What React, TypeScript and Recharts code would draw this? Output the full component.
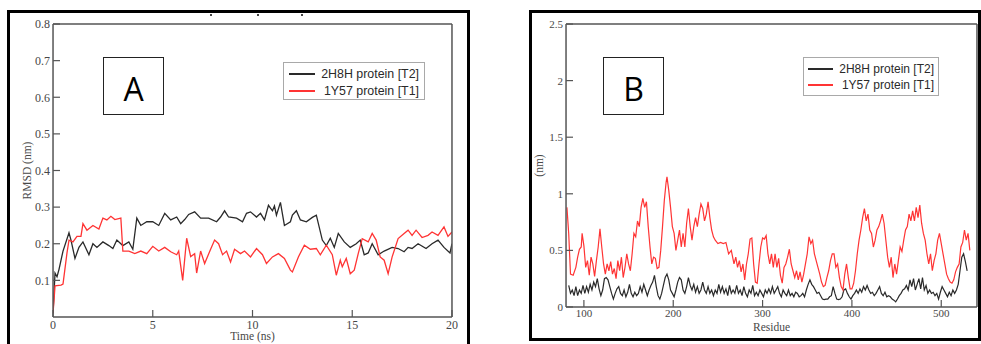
import React from 'react';
import { LineChart, Line, XAxis, YAxis, Legend } from 'recharts';

const SERIF = '"Liberation Serif", "Times New Roman", serif';
const SANS = '"Liberation Sans", Arial, sans-serif';

const seriesNames = ['2H8H protein [T2]', '1Y57 protein [T1]'];
const seriesColors = ['#2a2a2a', '#ff3434'];

// ---------- Panel A: RMSD vs time ----------
const timeTicksMajor = [0, 5, 10, 15, 20];
const timeTicksMinor = [2.5, 7.5, 12.5, 17.5];
const rmsdTicksLabel = [0.1, 0.2, 0.3, 0.4, 0.5, 0.6, 0.7, 0.8];
const rmsdTicksMajor = [0, 0.1, 0.2, 0.3, 0.4, 0.5, 0.6, 0.7, 0.8];
const rmsdTicksMinor = [0.05, 0.15, 0.25, 0.35, 0.45, 0.55, 0.65, 0.75];

const timeBlackA = [0, 0.1, 0.2, 0.3, 0.5, 0.8, 0.9, 1.1, 1.3, 1.5, 1.8, 2.0, 2.2, 2.5, 2.8, 3.0, 3.2, 3.5, 3.8, 4.0, 4.2, 4.4, 4.7, 5.0, 5.3, 5.6, 5.9, 6.2, 6.4, 6.6, 6.8, 7.1, 7.4, 7.8, 8.2, 8.4, 8.6, 8.8, 9.2, 9.5, 9.7, 9.9, 10.2, 10.4, 10.6, 10.8, 11.0, 11.1, 11.2, 11.4, 11.6, 11.9, 12.0, 12.2, 12.4, 12.7, 13.0, 13.2, 13.5, 13.7, 13.9, 14.1, 14.3, 14.6, 14.9, 15.2, 15.4, 15.6, 15.8, 16.0, 16.3, 16.6, 17.0, 17.3, 17.6, 17.8, 18.0, 18.3, 18.7, 19.0, 19.3, 19.6, 19.9, 20];
const rmsdBlackA = [0.01, 0.12, 0.11, 0.13, 0.18, 0.23, 0.21, 0.16, 0.19, 0.205, 0.17, 0.2, 0.19, 0.205, 0.195, 0.187, 0.21, 0.195, 0.205, 0.185, 0.27, 0.25, 0.26, 0.26, 0.25, 0.283, 0.265, 0.273, 0.255, 0.266, 0.28, 0.287, 0.27, 0.27, 0.26, 0.273, 0.29, 0.273, 0.27, 0.26, 0.283, 0.287, 0.273, 0.283, 0.265, 0.305, 0.29, 0.303, 0.278, 0.313, 0.25, 0.26, 0.278, 0.29, 0.265, 0.26, 0.272, 0.278, 0.21, 0.195, 0.215, 0.19, 0.228, 0.205, 0.19, 0.2, 0.21, 0.17, 0.175, 0.2, 0.17, 0.18, 0.19, 0.187, 0.178, 0.19, 0.187, 0.2, 0.187, 0.2, 0.21, 0.19, 0.175, 0.2];

const timeRedA = [0, 0.1, 0.4, 0.5, 0.7, 0.8, 1.0, 1.2, 1.4, 1.5, 1.7, 2.0, 2.3, 2.5, 2.7, 2.9, 3.1, 3.4, 3.5, 3.8, 4.1, 4.4, 4.7, 5.0, 5.3, 5.6, 5.9, 6.2, 6.3, 6.5, 6.7, 6.9, 7.1, 7.2, 7.4, 7.6, 7.9, 8.1, 8.3, 8.5, 8.7, 8.9, 9.1, 9.4, 9.6, 9.9, 10.2, 10.5, 10.7, 11.0, 11.3, 11.6, 11.9, 12.0, 12.3, 12.6, 12.9, 13.2, 13.4, 13.7, 14.0, 14.2, 14.4, 14.5, 14.7, 14.9, 15.1, 15.3, 15.5, 15.8, 16.0, 16.2, 16.4, 16.6, 16.8, 17.0, 17.3, 17.6, 17.8, 18.0, 18.2, 18.5, 18.8, 19.0, 19.3, 19.6, 19.8, 20];
const rmsdRedA = [0.01, 0.085, 0.087, 0.09, 0.175, 0.21, 0.205, 0.22, 0.22, 0.255, 0.237, 0.25, 0.24, 0.27, 0.265, 0.275, 0.266, 0.27, 0.18, 0.18, 0.173, 0.18, 0.173, 0.193, 0.18, 0.19, 0.178, 0.17, 0.18, 0.1, 0.215, 0.165, 0.173, 0.12, 0.18, 0.146, 0.185, 0.21, 0.2, 0.17, 0.18, 0.15, 0.185, 0.173, 0.18, 0.164, 0.187, 0.17, 0.146, 0.164, 0.173, 0.16, 0.128, 0.123, 0.164, 0.196, 0.185, 0.187, 0.17, 0.196, 0.17, 0.114, 0.155, 0.137, 0.16, 0.118, 0.128, 0.173, 0.214, 0.205, 0.228, 0.21, 0.164, 0.155, 0.118, 0.164, 0.214, 0.228, 0.237, 0.223, 0.237, 0.217, 0.223, 0.232, 0.223, 0.246, 0.22, 0.232];

// ---------- Panel B: fluctuation vs residue ----------
const residueTicksMajor = [100, 200, 300, 400, 500];
const residueTicksMinor = [150, 250, 350, 450];
const nmTicksMajor = [0, 0.5, 1, 1.5, 2, 2.5];
const nmTicksMinor = [0.25, 0.75, 1.25, 1.75, 2.25];

const residueRedB = [
  81, 83, 85, 88, 91, 93, 95, 97, 98, 100,
  102, 104, 106, 108, 110, 112, 114, 116, 118, 120,
  122, 124, 126, 128, 130, 132, 134, 136, 138, 140,
  142, 144, 146, 148, 150, 152, 154, 156, 158, 160,
  162, 164, 166, 168, 170, 172, 174, 176, 178, 180,
  182, 184, 186, 188, 190, 192, 193, 195, 197, 199,
  201, 203, 205, 207, 209, 211, 213, 215, 217, 219,
  221, 223, 225, 227, 229, 231, 233, 235, 237, 239,
  241, 243, 245, 247, 250, 253, 256, 259, 262, 265,
  268, 270, 272, 274, 276, 278, 280, 282, 284, 286,
  288, 290, 292, 294, 296, 298, 300, 302, 304, 306,
  308, 310, 312, 314, 316, 318, 320, 322, 324, 326,
  328, 330, 332, 334, 336, 338, 340, 342, 344, 346,
  348, 350, 352, 354, 356, 358, 360, 362, 364, 366,
  368, 370, 372, 374, 376, 378, 380, 382, 384, 386,
  388, 390, 392, 394, 396, 398, 400, 402, 404, 406,
  408, 410, 412, 414, 416, 418, 420, 422, 424, 426,
  428, 430, 432, 434, 436, 438, 440, 442, 444, 446,
  448, 450, 452, 454, 456, 458, 460, 462, 464, 466,
  468, 470, 472, 474, 476, 478, 480, 482, 484, 486,
  488, 490, 492, 494, 496, 498, 500, 502, 504, 506,
  508, 510, 512, 514, 516, 518, 520, 522, 524, 526,
  528, 530, 532,
];
const nmRedB = [
  0.88, 0.65, 0.29, 0.28, 0.35, 0.44, 0.51, 0.53, 0.65, 0.54,
  0.35, 0.41, 0.28, 0.44, 0.38, 0.27, 0.41, 0.53, 0.69, 0.53,
  0.38, 0.29, 0.38, 0.32, 0.4, 0.29, 0.34, 0.25, 0.41, 0.32,
  0.44, 0.26, 0.35, 0.47, 0.38, 0.32, 0.47, 0.65, 0.62, 0.76,
  0.71, 0.88, 0.96, 0.88, 0.93, 0.71, 0.53, 0.38, 0.44, 0.43,
  0.34, 0.35, 0.5, 0.71, 0.94, 1.1, 1.15, 1.03, 0.88, 0.71,
  0.65, 0.5, 0.59, 0.68, 0.53, 0.65, 0.53, 0.74, 0.87, 0.71,
  0.59, 0.71, 0.79, 0.71, 0.82, 0.91, 0.87, 0.76, 0.82, 0.93,
  0.79, 0.68, 0.62, 0.59, 0.56, 0.57, 0.56, 0.57, 0.47, 0.5,
  0.38, 0.44, 0.35, 0.41, 0.31, 0.38, 0.24, 0.38, 0.47, 0.6,
  0.61, 0.38, 0.22, 0.21, 0.38, 0.53, 0.61, 0.6, 0.63, 0.47,
  0.38, 0.47, 0.35, 0.47, 0.35, 0.43, 0.28, 0.21, 0.35, 0.38,
  0.44, 0.51, 0.38, 0.32, 0.26, 0.32, 0.24, 0.31, 0.22, 0.29,
  0.38, 0.47, 0.62, 0.56, 0.59, 0.47, 0.41, 0.35, 0.29, 0.22,
  0.18, 0.19, 0.26, 0.32, 0.41, 0.47, 0.47, 0.35, 0.38, 0.26,
  0.18, 0.15, 0.29, 0.38, 0.26, 0.16, 0.16, 0.21, 0.32, 0.47,
  0.59, 0.68, 0.79, 0.87, 0.76, 0.82, 0.68, 0.65, 0.53, 0.59,
  0.68, 0.71, 0.76, 0.82, 0.74, 0.59, 0.44, 0.35, 0.44, 0.26,
  0.38, 0.29, 0.41, 0.53, 0.49, 0.59, 0.68, 0.71, 0.82, 0.76,
  0.85, 0.76, 0.88, 0.79, 0.9, 0.74, 0.65, 0.59, 0.47, 0.38,
  0.47, 0.32, 0.41, 0.47, 0.59, 0.65, 0.56, 0.47, 0.38, 0.29,
  0.25, 0.22, 0.21, 0.24, 0.31, 0.35, 0.38, 0.53, 0.57, 0.68,
  0.59, 0.65, 0.5,
];

const residueBlackStart = 83;
const residueBlackStep = 2;
const nmBlackB = [
  0.19, 0.12, 0.15, 0.1, 0.18, 0.1, 0.15, 0.12, 0.19, 0.12,
  0.18, 0.13, 0.2, 0.15, 0.22, 0.18, 0.25, 0.16, 0.1, 0.15,
  0.25, 0.26, 0.24, 0.18, 0.12, 0.07, 0.12, 0.16, 0.18, 0.12,
  0.1, 0.15, 0.09, 0.13, 0.2, 0.12, 0.09, 0.13, 0.1, 0.12,
  0.18, 0.13, 0.2, 0.15, 0.1, 0.15, 0.19, 0.22, 0.28, 0.18,
  0.1, 0.07, 0.12, 0.19, 0.26, 0.29, 0.24, 0.15, 0.12, 0.09,
  0.15, 0.22, 0.26, 0.24, 0.15, 0.12, 0.18, 0.26, 0.19, 0.15,
  0.2, 0.13, 0.18, 0.12, 0.15, 0.22, 0.15, 0.12, 0.18, 0.12,
  0.15, 0.1, 0.15, 0.12, 0.2, 0.13, 0.18, 0.12, 0.16, 0.1,
  0.19, 0.12, 0.15, 0.12, 0.19, 0.12, 0.15, 0.1, 0.18, 0.12,
  0.09, 0.15, 0.12, 0.19, 0.1, 0.13, 0.1, 0.15, 0.12, 0.09,
  0.15, 0.12, 0.16, 0.12, 0.18, 0.12, 0.15, 0.18, 0.12, 0.09,
  0.15, 0.12, 0.1, 0.15, 0.1, 0.12, 0.09, 0.13, 0.12, 0.09,
  0.1, 0.12, 0.09, 0.15, 0.2, 0.24, 0.2, 0.18, 0.15, 0.12,
  0.13, 0.1, 0.07, 0.065, 0.07, 0.07, 0.09, 0.1, 0.18, 0.12,
  0.07, 0.065, 0.07, 0.09, 0.15, 0.16, 0.12, 0.09, 0.07, 0.1,
  0.12, 0.15, 0.12, 0.16, 0.13, 0.18, 0.15, 0.19, 0.15, 0.12,
  0.13, 0.1, 0.12, 0.15, 0.18, 0.12, 0.1, 0.13, 0.09, 0.1,
  0.09, 0.07, 0.06, 0.045, 0.07, 0.1, 0.12, 0.15, 0.16, 0.19,
  0.15, 0.24, 0.18, 0.25, 0.15, 0.2, 0.25, 0.16, 0.26, 0.15,
  0.19, 0.12, 0.15, 0.12, 0.13, 0.1, 0.12, 0.07, 0.13, 0.18,
  0.15, 0.12, 0.09, 0.13, 0.1, 0.15, 0.12, 0.15, 0.2, 0.32,
  0.44, 0.47, 0.4, 0.32,
];
const residueBlackB = nmBlackB.map((_, i) => residueBlackStart + i * residueBlackStep);

const zipRows = (xs: number[], ys: number[]) => xs.map((x, i) => ({ x, y: ys[i] }));
const rowsBlackA = zipRows(timeBlackA, rmsdBlackA);
const rowsRedA = zipRows(timeRedA, rmsdRedA);
const rowsBlackB = zipRows(residueBlackB, nmBlackB);
const rowsRedB = zipRows(residueRedB, nmRedB);

const AXIS = '#555';
const TXT = '#474747';
const THIN = 0.01;

type LegendCfg = { w: number; h: number; rowTop: number; rowGap: number; lineLeft: number; lineW: number; textRight: number; fs: number };

const makeLegend = (cfg: LegendCfg) => (props: any) => {
  const items = [...(props.payload || [])].sort(
    (a: any, b: any) => seriesNames.indexOf(a.value) - seriesNames.indexOf(b.value)
  );
  return (
    <div style={{ position: 'relative', width: cfg.w, height: cfg.h, border: '1.5px solid #a9a9a9', boxSizing: 'border-box', background: '#fff' }}>
      {items.map((it: any, i: number) => (
        <div key={it.value} style={{ position: 'absolute', left: 0, right: 0, top: cfg.rowTop + i * cfg.rowGap, height: 16 }}>
          <span style={{ position: 'absolute', left: cfg.lineLeft, width: cfg.lineW, top: 7, height: 2, background: it.color }} />
          <span style={{ position: 'absolute', right: cfg.textRight, top: 0, lineHeight: '16px', fontFamily: SANS, fontSize: cfg.fs, color: '#2a2a2a', whiteSpace: 'nowrap' }}>{it.value}</span>
        </div>
      ))}
    </div>
  );
};

const legendA = makeLegend({ w: 142, h: 38, rowTop: 3, rowGap: 16.6, lineLeft: 5, lineW: 26, textRight: 5, fs: 12.4 });
const legendB = makeLegend({ w: 136, h: 39, rowTop: 3, rowGap: 16.3, lineLeft: 4, lineW: 25, textRight: 4, fs: 12 });

type FrameCfg = {
  xDomain: number[]; xMajor: number[]; xMinor: number[];
  yDomain: number[]; yLabelTicks: number[]; yMajor: number[]; yMinor: number[];
  xTitle: string; yTitle: string; xTitleOffset: number; yTitleOffset: number;
  tickFont: number; xTickMargin: number; titleFont: number;
};

function frameAxes(c: FrameCfg) {
  const common = { allowDataOverflow: true, type: 'number' as const, interval: 0 as const };
  const tickStyle = { fill: TXT, fontSize: c.tickFont, fontFamily: SERIF };
  const tl = { stroke: AXIS, strokeWidth: 1.2 };
  const al = { stroke: AXIS, strokeWidth: 1.5 };
  return [
    <XAxis key="xm" xAxisId="main" dataKey="x" {...common} domain={c.xDomain} ticks={c.xMajor} height={THIN}
      tickSize={-7} tickMargin={c.xTickMargin} axisLine={al} tickLine={tl} tick={tickStyle}
      label={{ value: c.xTitle, position: 'bottom', offset: c.xTitleOffset, fill: TXT, fontSize: c.titleFont, fontFamily: SERIF }} />,
    <XAxis key="xn" xAxisId="minor" {...common} domain={c.xDomain} ticks={c.xMinor} height={THIN}
      tickSize={-4} axisLine={false} tickLine={tl} tick={false} />,
    <XAxis key="xt" xAxisId="top" orientation="top" {...common} domain={c.xDomain} ticks={c.xMajor} height={THIN}
      tickSize={-7} axisLine={al} tickLine={tl} tick={false} />,
    <XAxis key="xtn" xAxisId="topMinor" orientation="top" {...common} domain={c.xDomain} ticks={c.xMinor} height={THIN}
      tickSize={-4} axisLine={false} tickLine={tl} tick={false} />,
    <YAxis key="ym" yAxisId="main" {...common} domain={c.yDomain} ticks={c.yLabelTicks} width={THIN}
      tickSize={-7} tickMargin={10} axisLine={al} tickLine={tl} tick={tickStyle}
      label={{ value: c.yTitle, angle: -90, position: 'left', offset: c.yTitleOffset, fill: TXT, fontSize: c.titleFont, fontFamily: SERIF, style: { textAnchor: 'middle' } }} />,
    <YAxis key="yM" yAxisId="major" {...common} domain={c.yDomain} ticks={c.yMajor} width={THIN}
      tickSize={-7} axisLine={false} tickLine={tl} tick={false} />,
    <YAxis key="yn" yAxisId="minor" {...common} domain={c.yDomain} ticks={c.yMinor} width={THIN}
      tickSize={-4} axisLine={false} tickLine={tl} tick={false} />,
    <YAxis key="yr" yAxisId="right" orientation="right" {...common} domain={c.yDomain} ticks={c.yMajor} width={THIN}
      tickSize={-7} axisLine={al} tickLine={tl} tick={false} />,
    <YAxis key="yrn" yAxisId="rightMinor" orientation="right" {...common} domain={c.yDomain} ticks={c.yMinor} width={THIN}
      tickSize={-4} axisLine={false} tickLine={tl} tick={false} />,
  ];
}

function PanelA() {
  return (
    <LineChart width={481} height={344} margin={{ top: 24, right: 29, bottom: 27, left: 53 }}>
      {frameAxes({
        xDomain: [0, 20], xMajor: timeTicksMajor, xMinor: timeTicksMinor,
        yDomain: [0, 0.8], yLabelTicks: rmsdTicksLabel, yMajor: rmsdTicksMajor, yMinor: rmsdTicksMinor,
        xTitle: 'Time (ns)', yTitle: 'RMSD (nm)', xTitleOffset: 15, yTitleOffset: 26,
        tickFont: 12, xTickMargin: 10, titleFont: 11.5,
      })}
      <Line xAxisId="main" yAxisId="main" data={rowsBlackA} dataKey="y" name={seriesNames[0]} stroke={seriesColors[0]} strokeWidth={1.3} dot={false} type="linear" isAnimationActive={false} />
      <Line xAxisId="main" yAxisId="main" data={rowsRedA} dataKey="y" name={seriesNames[1]} stroke={seriesColors[1]} strokeWidth={1.3} dot={false} type="linear" isAnimationActive={false} />
      <Legend layout="vertical" align="center" verticalAlign="middle" content={legendA}
        wrapperStyle={{ left: 283, top: 62, width: 142, height: 38 }} />
    </LineChart>
  );
}

function PanelB() {
  return (
    <LineChart width={491} height={344} margin={{ top: 24, right: 4, bottom: 37, left: 76 }}>
      {frameAxes({
        xDomain: [80, 540], xMajor: residueTicksMajor, xMinor: residueTicksMinor,
        yDomain: [0, 2.5], yLabelTicks: nmTicksMajor, yMajor: nmTicksMajor, yMinor: nmTicksMinor,
        xTitle: 'Residue', yTitle: '(nm)', xTitleOffset: 16, yTitleOffset: 27,
        tickFont: 11, xTickMargin: 9, titleFont: 11.5,
      })}
      <Line xAxisId="main" yAxisId="main" data={rowsBlackB} dataKey="y" name={seriesNames[0]} stroke={seriesColors[0]} strokeWidth={1.2} dot={false} type="linear" isAnimationActive={false} />
      <Line xAxisId="main" yAxisId="main" data={rowsRedB} dataKey="y" name={seriesNames[1]} stroke={seriesColors[1]} strokeWidth={1.2} dot={false} type="linear" isAnimationActive={false} />
      <Legend layout="vertical" align="center" verticalAlign="middle" content={legendB}
        wrapperStyle={{ left: 313, top: 57, width: 136, height: 39 }} />
    </LineChart>
  );
}

const letterBox = (left: number, letter: string) => (
  <div style={{ position: 'absolute', left, top: 57, width: 61, height: 58, border: '1.5px solid #222', boxSizing: 'border-box', background: '#fff',
    display: 'flex', alignItems: 'center', justifyContent: 'center', fontFamily: '"Open Sans", "Liberation Sans", sans-serif', fontSize: 32, color: '#000', lineHeight: 1, paddingTop: 5 }}>
    {letter}
  </div>
);

export default function App() {
  return (
    <div style={{ position: 'absolute', left: 0, top: 0, width: 981, height: 344, overflow: 'hidden', background: '#fff' }}>
      <div style={{ position: 'absolute', left: 7, top: 10, width: 463, height: 350, border: '3px solid #000', boxSizing: 'border-box' }} />
      <div style={{ position: 'absolute', left: 529, top: 10, width: 452, height: 331, border: '3px solid #000', boxSizing: 'border-box' }} />
      {[210, 257, 301].map((x) => (
        <div key={x} style={{ position: 'absolute', left: x, top: 14, width: 2, height: 2, background: '#444' }} />
      ))}
      <div style={{ position: 'absolute', left: 0, top: 0 }}><PanelA /></div>
      <div style={{ position: 'absolute', left: 490, top: 0 }}><PanelB /></div>
      {letterBox(103, 'A')}
      {letterBox(603, 'B')}
    </div>
  );
}
